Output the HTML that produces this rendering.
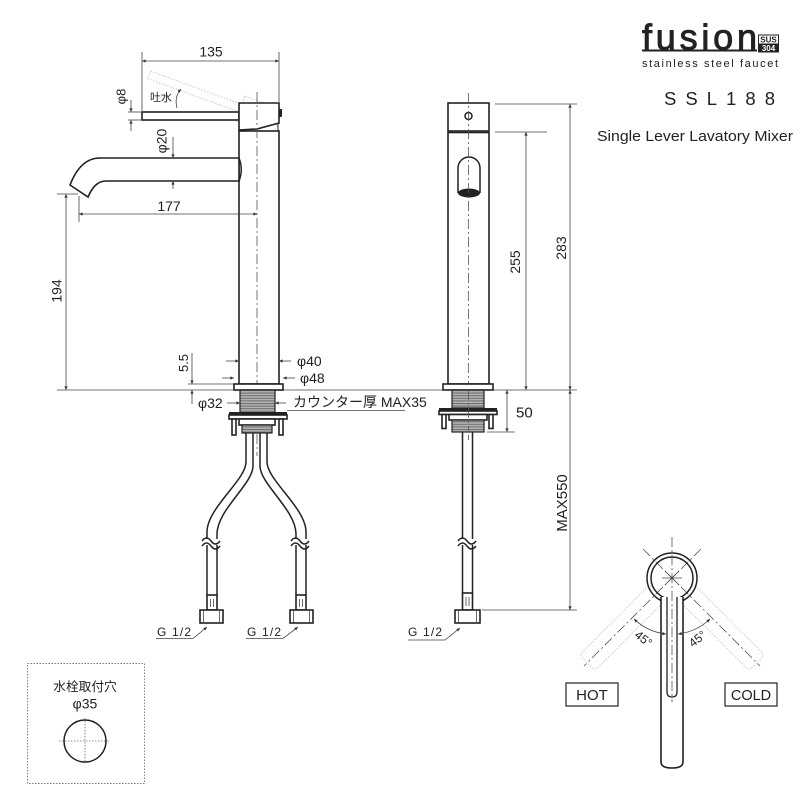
<!DOCTYPE html>
<html><head><meta charset="utf-8">
<style>
html,body{margin:0;padding:0;background:#fff;}
svg{display:block;}
text{font-family:"Liberation Sans","Noto Sans CJK JP",sans-serif;fill:#222;}
.o{fill:#fff;stroke:#222;stroke-width:1.6;}
.p{fill:none;stroke:#222;stroke-width:1.5;}
.d{stroke:#444;stroke-width:0.8;fill:none;}
.c{stroke:#555;stroke-width:0.8;fill:none;stroke-dasharray:10 3 2 3;}
.g{fill:none;stroke:#c4c4c4;stroke-width:0.9;stroke-dasharray:1.5 1.5;}
</style></head><body>
<svg width="800" height="800" viewBox="0 0 800 800" xmlns="http://www.w3.org/2000/svg">
<defs>
<marker id="a" viewBox="0 0 10 10" refX="10" refY="5" markerWidth="7" markerHeight="3.6" orient="auto-start-reverse" markerUnits="userSpaceOnUse"><path d="M0,0.5 L10,5 L0,9.5 z" fill="#333"/></marker>
<pattern id="th" width="4" height="2.6" patternUnits="userSpaceOnUse"><rect width="4" height="2.6" fill="#b4b4b4"/><rect width="4" height="1" fill="#6a6a6a"/></pattern>
</defs>

<!-- ===== LOGO ===== -->
<text x="642" y="49.5" font-size="36" textLength="115" lengthAdjust="spacing" style="stroke:#222;stroke-width:0.9">fusion</text>
<line x1="642" y1="50.5" x2="757" y2="50.5" stroke="#222" stroke-width="2"/>
<rect x="758.5" y="35" width="20" height="17" fill="#fff" stroke="#222" stroke-width="1"/>
<text x="768.5" y="42.6" font-size="8" font-weight="bold" text-anchor="middle">SUS</text>
<rect x="758.5" y="43.5" width="20" height="8.5" fill="#222"/>
<text x="768.5" y="51" font-size="8" font-weight="bold" text-anchor="middle" style="fill:#fff">304</text>
<text x="642" y="67" font-size="11" textLength="136" lengthAdjust="spacing">stainless steel faucet</text>
<text x="664" y="105" font-size="18.5" textLength="111" lengthAdjust="spacing">SSL188</text>
<text x="597" y="141" font-size="14.5" textLength="196" lengthAdjust="spacingAndGlyphs">Single Lever Lavatory Mixer</text>

<!-- ===== SIDE VIEW ===== -->
<line x1="142" y1="52" x2="142" y2="111" class="d"/>
<line x1="279" y1="52" x2="279" y2="102" class="d"/>
<line x1="142" y1="61" x2="279" y2="61" class="d" marker-start="url(#a)" marker-end="url(#a)"/>
<text x="211" y="56.5" font-size="14" text-anchor="middle">135</text>

<g transform="rotate(20 262 116)" class="g">
<rect x="142" y="112" width="97" height="8"/>
<rect x="239" y="103" width="40" height="27"/>
</g>

<rect x="239" y="131" width="40" height="253" class="o"/>
<rect x="142" y="112" width="97" height="8" class="o"/>
<path d="M239,103 H279 V123 L257,129 L239,130 Z" class="o"/>
<line x1="278" y1="123" x2="278" y2="131" stroke="#222" stroke-width="1"/>
<rect x="279" y="109" width="3" height="8" rx="1" fill="#222"/>
<line x1="257" y1="92" x2="257" y2="456" class="c"/>

<path d="M239,158 H100 C84,158 75,172 70,185 L88,197 C92,188 97,181 106,181 H239" class="o"/>
<path d="M239,158 Q243.5,169.5 239,181" class="p"/>
<line x1="239" y1="157" x2="239" y2="182" stroke="#222" stroke-width="1.6"/>

<line x1="128" y1="112" x2="141" y2="112" class="d"/>
<line x1="128" y1="120" x2="141" y2="120" class="d"/>
<line x1="131" y1="100" x2="131" y2="112" class="d" marker-end="url(#a)"/>
<line x1="131" y1="131" x2="131" y2="120" class="d" marker-end="url(#a)"/>
<text transform="translate(125.5,96.5) rotate(-90)" font-size="13" text-anchor="middle">φ8</text>

<text x="150" y="101" font-size="11">吐水</text>
<path d="M177,108 Q174,97 181,89" class="d" marker-end="url(#a)"/>

<line x1="173" y1="137" x2="173" y2="158" class="d" marker-end="url(#a)"/>
<line x1="173" y1="189" x2="173" y2="181" class="d" marker-end="url(#a)"/>
<text transform="translate(166.5,141) rotate(-90)" font-size="14" text-anchor="middle">φ20</text>

<line x1="79" y1="196" x2="79" y2="222" class="d"/>
<line x1="79" y1="214" x2="257" y2="214" class="d" marker-start="url(#a)" marker-end="url(#a)"/>
<text x="169" y="211" font-size="14" text-anchor="middle">177</text>

<line x1="57" y1="194" x2="78" y2="194" class="d"/>
<line x1="66" y1="194" x2="66" y2="390" class="d" marker-start="url(#a)" marker-end="url(#a)"/>
<text transform="translate(61.5,291) rotate(-90)" font-size="14" text-anchor="middle">194</text>

<line x1="57" y1="390" x2="577" y2="390" class="d"/>

<line x1="188" y1="384" x2="234" y2="384" class="d"/>
<line x1="192" y1="353" x2="192" y2="384" class="d" marker-end="url(#a)"/>
<line x1="192" y1="404" x2="192" y2="390" class="d" marker-end="url(#a)"/>
<text transform="translate(188,363) rotate(-90)" font-size="13" text-anchor="middle">5.5</text>

<line x1="226" y1="361" x2="239" y2="361" class="d" marker-end="url(#a)"/>
<line x1="291" y1="361" x2="279" y2="361" class="d" marker-end="url(#a)"/>
<text x="297" y="366" font-size="14">φ40</text>
<line x1="222" y1="378" x2="234" y2="378" class="d" marker-end="url(#a)"/>
<line x1="295" y1="378" x2="283" y2="378" class="d" marker-end="url(#a)"/>
<text x="300" y="383" font-size="14">φ48</text>

<rect x="234" y="384" width="49" height="6" class="o" stroke-width="1.4"/>
<rect x="240" y="390" width="35" height="23" fill="url(#th)" stroke="#222" stroke-width="1.2"/>
<text x="198" y="408" font-size="14">φ32</text>
<line x1="227" y1="403" x2="240" y2="403" class="d" marker-end="url(#a)"/>
<line x1="286" y1="403" x2="275" y2="403" class="d" marker-end="url(#a)"/>
<text x="293" y="407" font-size="14">カウンター厚 MAX35</text>
<line x1="287" y1="410.5" x2="405" y2="410.5" class="d"/>

<rect x="229" y="412" width="58" height="3" fill="#222"/>
<rect x="229" y="415" width="58" height="4" class="o" stroke-width="1.2"/>
<rect x="232" y="419" width="4" height="16" class="o" stroke-width="1.2"/>
<rect x="279" y="419" width="4" height="16" class="o" stroke-width="1.2"/>
<rect x="239" y="419" width="36" height="6" class="o" stroke-width="1.2"/>
<rect x="242" y="425" width="30" height="8" fill="url(#th)" stroke="#222" stroke-width="1.2"/>

<path d="M246,433 V462 C246,480 207,508 207,532 V539" class="p"/>
<path d="M253,433 V466 C253,484 217,510 217,534 V539" class="p"/>
<path d="M267,433 V462 C267,480 306,508 306,532 V539" class="p"/>
<path d="M260,433 V466 C260,484 296,510 296,534 V539" class="p"/>
<line x1="207" y1="545" x2="207" y2="595" class="p"/>
<line x1="217" y1="545" x2="217" y2="595" class="p"/>
<line x1="296" y1="545" x2="296" y2="595" class="p"/>
<line x1="306" y1="545" x2="306" y2="595" class="p"/>
<path d="M202,541 c3,-4 6,-4 9,0 s6,4 9,0" class="p" stroke-width="1.1"/>
<path d="M202,546 c3,-4 6,-4 9,0 s6,4 9,0" class="p" stroke-width="1.1"/>
<path d="M291,541 c3,-4 6,-4 9,0 s6,4 9,0" class="p" stroke-width="1.1"/>
<path d="M291,546 c3,-4 6,-4 9,0 s6,4 9,0" class="p" stroke-width="1.1"/>

<rect x="207" y="595" width="10" height="15" class="o" stroke-width="1.3"/>
<line x1="210.5" y1="599" x2="210.5" y2="607" class="d"/>
<line x1="213.5" y1="599" x2="213.5" y2="607" class="d"/>
<rect x="200" y="610" width="23" height="13" class="o" stroke-width="1.4"/>
<line x1="203.5" y1="610" x2="203.5" y2="623" class="d"/>
<line x1="219.5" y1="610" x2="219.5" y2="623" class="d"/>

<rect x="296" y="595" width="10" height="15" class="o" stroke-width="1.3"/>
<line x1="299.5" y1="599" x2="299.5" y2="607" class="d"/>
<line x1="302.5" y1="599" x2="302.5" y2="607" class="d"/>
<rect x="290" y="610" width="23" height="13" class="o" stroke-width="1.4"/>
<line x1="293.5" y1="610" x2="293.5" y2="623" class="d"/>
<line x1="309.5" y1="610" x2="309.5" y2="623" class="d"/>

<text x="157" y="636" font-size="12" textLength="34" lengthAdjust="spacing">G 1/2</text>
<path d="M156,638.5 H193 L207,627" class="d" marker-end="url(#a)"/>
<text x="247" y="636" font-size="12" textLength="34" lengthAdjust="spacing">G 1/2</text>
<path d="M246,638.5 H283 L298,627" class="d" marker-end="url(#a)"/>

<!-- ===== FRONT VIEW ===== -->
<rect x="448" y="103" width="41" height="28" class="o"/>
<circle cx="468.5" cy="116" r="3.5" class="p" stroke-width="1.2"/>
<rect x="448" y="132.5" width="41" height="251.5" class="o"/>
<path d="M458,193 V168 A11,11 0 0 1 480,168 V193" class="p" stroke-width="1.4"/>
<ellipse cx="469" cy="193" rx="11" ry="4.5" fill="#222"/>
<line x1="468.5" y1="93" x2="468.5" y2="440" class="c"/>

<line x1="495" y1="132" x2="547" y2="132" class="d"/>
<line x1="526" y1="132" x2="526" y2="390" class="d" marker-start="url(#a)" marker-end="url(#a)"/>
<text transform="translate(520,262) rotate(-90)" font-size="14" text-anchor="middle">255</text>
<line x1="495" y1="104" x2="577" y2="104" class="d"/>
<line x1="570" y1="104" x2="570" y2="390" class="d" marker-start="url(#a)" marker-end="url(#a)"/>
<text transform="translate(566,248) rotate(-90)" font-size="14" text-anchor="middle">283</text>

<rect x="443" y="384" width="50" height="6" class="o" stroke-width="1.4"/>
<rect x="452" y="390" width="32" height="18" fill="url(#th)" stroke="#222" stroke-width="1.2"/>
<rect x="439" y="408" width="58" height="3" fill="#222"/>
<rect x="439" y="411" width="58" height="3.5" class="o" stroke-width="1.2"/>
<rect x="442" y="414.5" width="4" height="14" class="o" stroke-width="1.2"/>
<rect x="489" y="414.5" width="4" height="14" class="o" stroke-width="1.2"/>
<rect x="449" y="414.5" width="38" height="5.5" class="o" stroke-width="1.2"/>
<rect x="452" y="420" width="32" height="12" fill="url(#th)" stroke="#222" stroke-width="1.2"/>
<line x1="468.5" y1="390" x2="468.5" y2="432" class="c"/>

<line x1="487" y1="432" x2="515" y2="432" class="d"/>
<line x1="507" y1="390" x2="507" y2="432" class="d" marker-start="url(#a)" marker-end="url(#a)"/>
<text x="516" y="417.5" font-size="15">50</text>

<line x1="462.5" y1="432" x2="462.5" y2="539" class="p"/>
<line x1="472.5" y1="432" x2="472.5" y2="539" class="p"/>
<line x1="462.5" y1="545" x2="462.5" y2="593" class="p"/>
<line x1="472.5" y1="545" x2="472.5" y2="593" class="p"/>
<path d="M458,541 c3,-4 6,-4 9,0 s6,4 9,0" class="p" stroke-width="1.1"/>
<path d="M458,546 c3,-4 6,-4 9,0 s6,4 9,0" class="p" stroke-width="1.1"/>
<rect x="462.5" y="593" width="10" height="17" class="o" stroke-width="1.3"/>
<line x1="466" y1="597" x2="466" y2="606" class="d"/>
<line x1="469" y1="597" x2="469" y2="606" class="d"/>
<rect x="455" y="610" width="25" height="13" class="o" stroke-width="1.4"/>
<line x1="458.5" y1="610" x2="458.5" y2="623" class="d"/>
<line x1="476.5" y1="610" x2="476.5" y2="623" class="d"/>
<text x="408" y="636" font-size="12" textLength="34" lengthAdjust="spacing">G 1/2</text>
<path d="M408,640 H445 L460,628" class="d" marker-end="url(#a)"/>

<line x1="482" y1="610" x2="577" y2="610" class="d"/>
<line x1="570" y1="390" x2="570" y2="610" class="d" marker-start="url(#a)" marker-end="url(#a)"/>
<text transform="translate(567,503) rotate(-90)" font-size="15" text-anchor="middle">MAX550</text>

<!-- ===== HOT / COLD ===== -->
<g transform="rotate(45 672 578)" class="g"><rect x="661" y="598" width="22" height="100" rx="4"/></g>
<g transform="rotate(-45 672 578)" class="g"><rect x="661" y="598" width="22" height="100" rx="4"/></g>
<line x1="643" y1="549" x2="760" y2="666" class="c"/>
<line x1="701" y1="549" x2="584" y2="666" class="c"/>
<circle cx="672" cy="578" r="25" class="p" stroke-width="1.8"/>
<circle cx="672" cy="578" r="21" class="p" stroke-width="1.2"/>
<path d="M661,597 V762 Q661,768 672,768 Q683,768 683,762 V597" fill="#fff" stroke="#222" stroke-width="1.6"/>
<path d="M667,597 V692 Q667,697 672,697 Q677,697 677,692 V597" fill="#fff" stroke="#222" stroke-width="1.3"/>
<line x1="672" y1="537" x2="672" y2="702" class="c"/>
<line x1="662" y1="578" x2="682" y2="578" class="d"/>
<line x1="665" y1="571" x2="679" y2="585" class="d"/>
<line x1="665" y1="585" x2="679" y2="571" class="d"/>
<path d="M634,619 A56,56 0 0 0 666,634" class="d" marker-start="url(#a)" marker-end="url(#a)"/>
<path d="M678,634 A56,56 0 0 0 710,619" class="d" marker-start="url(#a)" marker-end="url(#a)"/>
<text transform="translate(641,642) rotate(38)" font-size="12" text-anchor="middle">45°</text>
<text transform="translate(700,642) rotate(-38)" font-size="12" text-anchor="middle">45°</text>
<rect x="566" y="683" width="52" height="23" fill="#fff" stroke="#222" stroke-width="1.2"/>
<text x="592" y="700" font-size="15" text-anchor="middle">HOT</text>
<rect x="725" y="683" width="52" height="23" fill="#fff" stroke="#222" stroke-width="1.2"/>
<text x="751" y="700" font-size="14.5" text-anchor="middle">COLD</text>

<!-- ===== MOUNTING HOLE BOX ===== -->
<rect x="27.5" y="663.5" width="117" height="120" fill="none" stroke="#777" stroke-width="0.9" stroke-dasharray="1.5 1.5"/>
<text x="85" y="691" font-size="12.7" text-anchor="middle">水栓取付穴</text>
<text x="85" y="708.5" font-size="14" text-anchor="middle">φ35</text>
<circle cx="85" cy="741" r="21" class="p" stroke-width="1.1" stroke="#444"/>
<line x1="59" y1="741" x2="110" y2="741" stroke="#666" stroke-width="0.8" stroke-dasharray="1.5 1.5"/>
<line x1="85" y1="718" x2="85" y2="763" stroke="#666" stroke-width="0.8" stroke-dasharray="1.5 1.5"/>
</svg>
</body></html>
